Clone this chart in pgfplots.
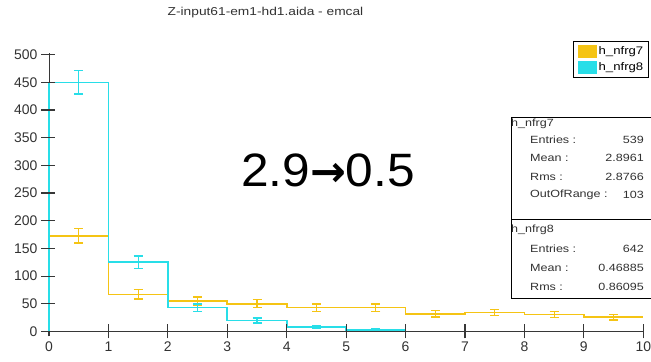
\documentclass[border=0pt]{standalone}
\usepackage{pgfplots}
\pgfplotsset{compat=1.18}
\usepackage{fontspec}
\setmainfont{Liberation Sans}
\newfontfamily\widefont[FakeStretch=1.2]{Liberation Sans}
\newfontfamily\bigfont[FakeStretch=1.06]{Liberation Sans}
\newfontfamily\symfont{DejaVu Sans}

\definecolor{histA}{RGB}{245,196,20}
\definecolor{histB}{RGB}{40,222,232}
\definecolor{axgray}{RGB}{55,55,55}
\definecolor{txtgray}{RGB}{50,50,50}

% h_nfrg7 : bin lower edge, content (const plot, last edge repeated)
\pgfplotstableread{
x y
0 0
0 173
1 67
2 55
3 50
4 43
5 43
6 32
7 34
8 31
9 26
10 26
}\histA
% h_nfrg7 : bin centre, content, statistical error
\pgfplotstableread{
x y e
0.5 173 13.2
1.5 67 8.2
2.5 55 7.4
3.5 50 7.1
4.5 43 6.6
5.5 43 6.6
6.5 32 5.7
7.5 34 5.8
8.5 31 5.6
9.5 26 5.1
}\errA
% h_nfrg8
\pgfplotstableread{
x y
0 0
0 450
1 125
2 43
3 20
4 8
5 3
6 0
}\histB
\pgfplotstableread{
x y e
0.5 450 21.2
1.5 125 11.2
2.5 43 6.6
3.5 20 4.5
4.5 8 2.8
5.5 3 1.7
}\errB

\begin{document}
\begin{tikzpicture}
\path[use as bounding box] (0bp,0bp) rectangle (651bp,362bp);
\begin{axis}[
  at={(49bp,30.5bp)}, anchor=south west,
  scale only axis, width=594.3bp, height=278.5bp,
  xmin=0, xmax=10, ymin=0, ymax=503,
  axis x line*=bottom, axis y line*=left,
  axis line style={axgray, line width=1bp},
  xtick={0,1,...,10}, ytick={0,50,...,500},
  major tick length=0pt,
  ticklabel style={font=\fontsize{14}{16}\selectfont, text=txtgray},
  /pgf/number format/assume math mode=true,
  xticklabel style={yshift=-7bp},
  yticklabel style={xshift=-8bp},
  clip=false,
  legend style={at={(0.882,1.043)}, anchor=north west, draw=black,
    line width=0.8bp, fill=white, inner xsep=4bp, inner ysep=3.5bp,
    font=\widefont\fontsize{11}{12}\selectfont, row sep=3.5bp,
    nodes={inner sep=1.5bp}},
  legend cell align=left,
  legend image code/.code={\fill[#1] (0bp,-5.5bp) rectangle (18bp,5.5bp);},
]
\addplot[histA, line width=1.6bp, const plot mark left] table[x=x,y=y] {\histA};
\addlegendentry{h\_nfrg7}
\addplot[histB, line width=1.6bp, const plot mark left] table[x=x,y=y] {\histB};
\addlegendentry{h\_nfrg8}
\addplot[forget plot, draw=none, mark=none,
  error bars/.cd, y dir=both, y explicit,
  error bar style={histA, line width=1.2bp},
  error mark options={rotate=90, mark size=4.5bp, histA, line width=1.2bp}]
  table[x=x, y=y, y error=e] {\errA};
\addplot[forget plot, draw=none, mark=none,
  error bars/.cd, y dir=both, y explicit,
  error bar style={histB, line width=1.2bp},
  error mark options={rotate=90, mark size=4.5bp, histB, line width=1.2bp}]
  table[x=x, y=y, y error=e] {\errB};
\end{axis}

% tick marks crossing the axis lines (one unit = 59.43bp in x, 50 counts = 27.684bp in y)
\foreach \k in {1,...,10}
  \draw[axgray, line width=1.2bp] ({49bp+59.43bp*\k},23.5bp) -- ({49bp+59.43bp*\k},37.5bp);
\foreach \k in {1,...,10}
  \draw[axgray, line width=1.2bp] (41bp,{30.5bp+27.684bp*\k}) -- (55bp,{30.5bp+27.684bp*\k});
\draw[axgray, line width=1.2bp] (41bp,30.5bp) -- (49bp,30.5bp);
\draw[axgray, line width=1.2bp] (49bp,25.5bp) -- (49bp,30.5bp);

% title
\node[text=txtgray, font=\widefont\fontsize{11.5}{13}\selectfont] at (265.5bp,349bp) {Z-input61-em1-hd1.aida - emcal};

% annotation
\node[font=\bigfont\fontsize{47}{50}\selectfont] at (328bp,192bp)
  {2.9{\symfont\bfseries\fontsize{43}{46}\selectfont →}0.5};

% statistics box
\draw[black, line width=0.8bp, fill=white] (511bp,245bp) rectangle (660bp,64bp);
\draw[black, line width=0.8bp] (511bp,143bp) -- (660bp,143bp);
\begin{scope}[every node/.style={font=\widefont\fontsize{10.5}{12}\selectfont, inner sep=0pt, text=txtgray}]
\node[anchor=west] at (511bp,238bp) {h\_nfrg7};
\node[anchor=west] at (530bp,222bp) {Entries :};
\node[anchor=east] at (644bp,222bp) {539};
\node[anchor=west] at (530bp,204bp) {Mean :};
\node[anchor=east] at (644bp,204bp) {2.8961};
\node[anchor=west] at (530bp,185bp) {Rms :};
\node[anchor=east] at (644bp,185bp) {2.8766};
\node[anchor=west] at (530bp,167bp) {OutOfRange :};
\node[anchor=east] at (644bp,167bp) {103};
\node[anchor=west] at (511bp,132bp) {h\_nfrg8};
\node[anchor=west] at (530bp,113bp) {Entries :};
\node[anchor=east] at (644bp,113bp) {642};
\node[anchor=west] at (530bp,94bp) {Mean :};
\node[anchor=east] at (644bp,94bp) {0.46885};
\node[anchor=west] at (530bp,75bp) {Rms :};
\node[anchor=east] at (644bp,75bp) {0.86095};
\end{scope}
\end{tikzpicture}
\end{document}
